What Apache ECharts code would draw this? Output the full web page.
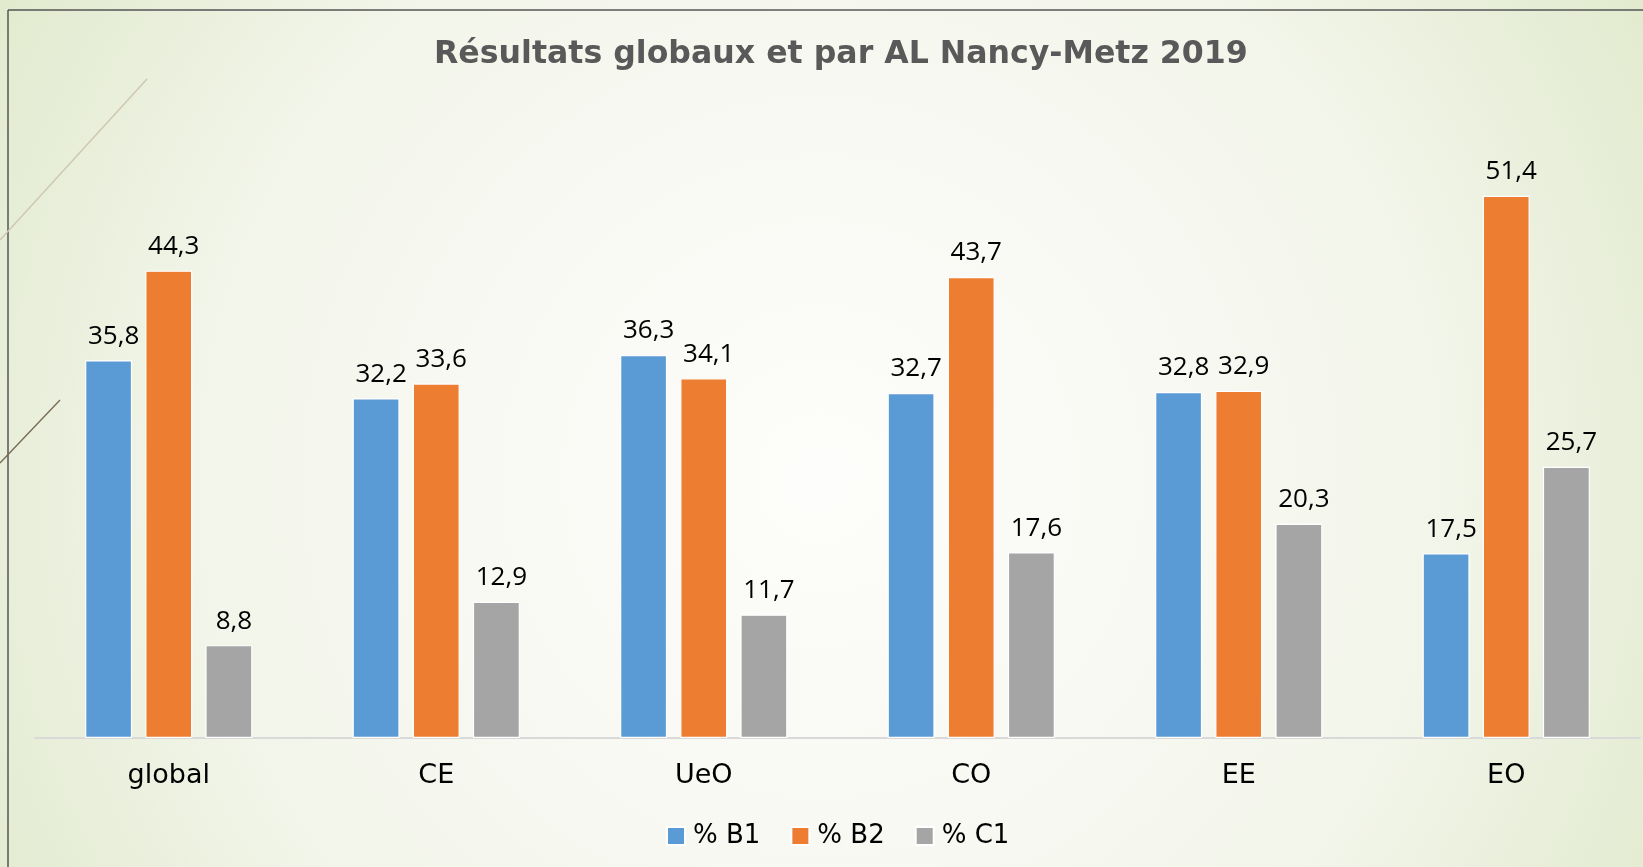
<!DOCTYPE html>
<html lang="fr">
<head>
<meta charset="utf-8">
<title>Résultats globaux et par AL Nancy-Metz 2019</title>
<script src="https://cdn.jsdelivr.net/npm/echarts@6/dist/echarts.min.js"></script>
<style>
  html, body { margin: 0; padding: 0; width: 100%; height: 100%; overflow: hidden; }
  #chart { width: 1643px; height: 867px; }
</style>
</head>
<body>
<div id="chart"></div>
<script>
// Catégories (global + activités langagières) et pourcentages par niveau
const categories = ['global', 'CE', 'UeO', 'CO', 'EE', 'EO'];
const seriesNames = ['% B1', '% B2', '% C1'];
const valuesB1 = [35.8, 32.2, 36.3, 32.7, 32.8, 17.5];
const valuesB2 = [44.3, 33.6, 34.1, 43.7, 32.9, 51.4];
const valuesC1 = [8.8, 12.9, 11.7, 17.6, 20.3, 25.7];
const chartTitle = 'Résultats globaux et par AL Nancy-Metz 2019';

const colors = ['#5B9BD5', '#ED7D31', '#A5A5A5'];
const labelFont = '"Open Sans", "Noto Sans", sans-serif';
const gothicFont = '"DejaVu Sans", "Noto Sans", sans-serif';

// Décimales à la française : 35.8 -> "35,8"
function fr(v) { return String(v).replace('.', ','); }

function barSeries(name, data, color) {
  return {
    name: name,
    type: 'bar',
    data: data,
    barWidth: 47,
    barGap: '28%',
    itemStyle: { color: color, borderColor: '#ffffff', borderWidth: 1.2 },
    label: {
      show: true,
      position: 'top',
      distance: 11,
      offset: [5, 0],
      color: '#000000',
      fontFamily: labelFont,
      fontSize: 26,
      formatter: p => fr(p.value)
    }
  };
}

const chart = echarts.init(document.getElementById('chart'), null, { renderer: 'canvas' });

chart.setOption({
  backgroundColor: {
    type: 'radial', x: 0.5, y: 0.55, r: 1.15,
    colorStops: [
      { offset: 0, color: '#FDFDFB' },
      { offset: 0.35, color: '#F8F9F3' },
      { offset: 0.63, color: '#F2F5E9' },
      { offset: 0.8, color: '#E9EFDB' },
      { offset: 1, color: '#E0E9CA' }
    ]
  },
  animation: false,
  color: colors,
  title: {
    text: chartTitle,
    left: 429,
    top: 34,
    textStyle: { color: '#595959', fontFamily: gothicFont, fontWeight: 'bold', fontSize: 31.6 }
  },
  legend: {
    data: seriesNames,
    left: 661,
    top: 818,
    itemWidth: 18,
    itemHeight: 18,
    itemGap: 30,
    icon: 'rect',
    textStyle: { color: '#000000', fontFamily: gothicFont, fontSize: 26, padding: [0, 0, 0, 3] }
  },
  grid: { left: 35, right: 3, top: 105, bottom: 129, containLabel: false },
  xAxis: {
    type: 'category',
    data: categories,
    axisLine: { show: true, lineStyle: { color: '#D9D9D9', width: 2 } },
    axisTick: { show: false },
    axisLabel: { color: '#000000', fontFamily: gothicFont, fontSize: 27, margin: 24 }
  },
  yAxis: {
    type: 'value',
    min: 0,
    max: 60,
    interval: 10,
    show: false,
    splitLine: { show: false }
  },
  graphic: [
    { type: 'line', silent: true, shape: { x1: 8, y1: 10, x2: 1643, y2: 10 }, style: { stroke: '#555555', lineWidth: 1.5 } },
    { type: 'line', silent: true, shape: { x1: 8, y1: 10, x2: 8, y2: 867 }, style: { stroke: '#555555', lineWidth: 1.5 } },
    { type: 'line', silent: true, shape: { x1: 0, y1: 240, x2: 147, y2: 79 }, style: { stroke: '#CEC7B1', lineWidth: 1.5 } },
    { type: 'line', silent: true, shape: { x1: 0, y1: 463, x2: 60, y2: 400 }, style: { stroke: '#75694F', lineWidth: 1.3 } }
  ],
  series: [
    barSeries(seriesNames[0], valuesB1, colors[0]),
    barSeries(seriesNames[1], valuesB2, colors[1]),
    barSeries(seriesNames[2], valuesC1, colors[2])
  ]
});
</script>
</body>
</html>
